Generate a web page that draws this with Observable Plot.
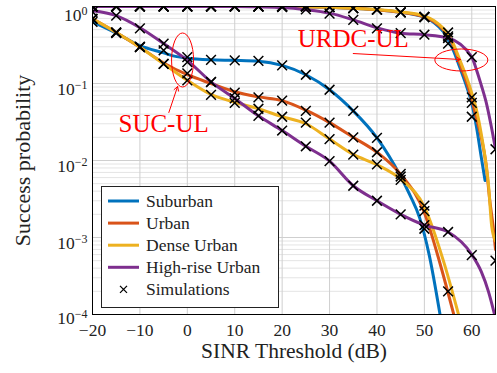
<!DOCTYPE html>
<html><head><meta charset="utf-8">
<script src="https://cdn.jsdelivr.net/npm/d3@7"></script>
<script src="https://cdn.jsdelivr.net/npm/@observablehq/plot@0.6"></script>
<style>body{margin:0;background:#fff} svg{display:block}</style>
</head><body><div id="chart"></div>
<script>
// ---- data ----
const seriesNames = ["Suburban", "Urban", "Dense Urban", "High-rise Urban"];
const seriesColors = ["#0072BD", "#D95319", "#EDB120", "#7E2F8E"];
const xTicks = [-20, -10, 0, 10, 20, 30, 40, 50, 60];
const yTicks = [1e-4, 1e-3, 1e-2, 1e-1, 1];

// SUC-UL analytical curves
const subSUCx = [-20,-15,-10,-5,-2.5,0,5,10,15,20,25,30,35,40,45,47,49,51,53.3];
const subSUCy = [0.63,0.45,0.31,0.25,0.225,0.213,0.203,0.2,0.195,0.172,0.13,0.083,0.044,0.0197,0.0062,0.0035,0.0018,0.0006,0.0001];
const urbSUCx = [-20,-15,-10,-5,0,5,10,15,20,25,30,35,40,45,50,53.3,56.2];
const urbSUCy = [0.69,0.46,0.296,0.185,0.13,0.1,0.078,0.067,0.06,0.045,0.031,0.020,0.0128,0.0066,0.0021,0.00046,0.0001];
const denSUCx = [-20,-15,-10,-5,0,5,10,15,20,25,30,35,40,45,50,54,57.2];
const denSUCy = [0.69,0.46,0.296,0.18,0.11,0.072,0.057,0.047,0.037,0.03,0.019,0.012,0.0088,0.0057,0.0025,0.0005,0.0001];
const hriSUCx = [-20,-15,-10,-5,0,5,10,15,20,25,30,35,40,45,50,55,60,62,63.5,64.8];
const hriSUCy = [0.88,0.76,0.53,0.33,0.2,0.105,0.064,0.038,0.0245,0.0153,0.0098,0.0047,0.003,0.002,0.00145,0.00118,0.0006,0.00036,0.0002,0.0001];

// URDC-UL analytical curves
const subURDCx = [-20,20,25,30,35,40,45,50,52,54,55,56,57.5,59,60,61,62,62.8];
const subURDCy = [1,1,0.995,0.98,0.95,0.91,0.84,0.72,0.62,0.47,0.37,0.28,0.16,0.088,0.055,0.027,0.011,0.0055];
const urbURDCx = [-20,20,25,30,35,40,45,50,52,54,55,56,57.5,59,60,61,62,63,63.8,64.5,65];
const urbURDCy = [1,1,0.995,0.98,0.95,0.91,0.84,0.73,0.64,0.5,0.41,0.32,0.18,0.1,0.062,0.035,0.02,0.009,0.003,0.0014,0.0007];
const denURDCx = [-20,20,25,30,35,40,45,50,52,54,55,56,57.5,59,60,61,62,63,63.5,64.2,65];
const denURDCy = [1,1,0.995,0.98,0.95,0.91,0.85,0.75,0.66,0.52,0.44,0.34,0.2,0.115,0.075,0.045,0.022,0.009,0.005,0.0014,0.0009];
const hriURDCx = [-20,10,15,20,25,30,35,40,45,50,55,60,61,62,63,64,65];
const hriURDCy = [1,1,0.99,0.97,0.91,0.82,0.67,0.53,0.45,0.43,0.39,0.22,0.15,0.095,0.058,0.03,0.014];

// Simulation points (every 5 dB)
const simX = [-20,-15,-10,-5,0,5,10,15,20,25,30,35,40,45,50,55,60,65];
const subSUCsim = [0.63,0.45,0.30,0.27,0.22,0.203,0.2,0.197,0.172,0.13,0.083,0.044,0.0197,0.0062,0.0013,null,null,null];
const urbSUCsim = [0.69,0.46,0.296,0.18,0.135,0.105,0.076,0.066,0.06,0.044,0.031,0.020,0.0128,0.0067,0.0022,0.0002,null,null];
const denSUCsim = [0.69,0.46,0.296,0.18,0.11,0.071,0.056,0.047,0.037,0.031,0.019,0.0119,0.0089,0.0056,0.0026,null,null,null];
const hriSUCsim = [0.85,0.76,0.52,0.33,0.19,0.104,0.064,0.038,0.0245,0.0153,0.0098,0.0047,0.003,0.002,0.00145,0.00118,0.00059,0.0005];
const subURDCsim = [1,1,1,1,1,1,1,1,1,1,0.98,0.95,0.91,0.84,0.73,0.33,0.037,null];
const urbURDCsim = [1,1,1,1,1,1,1,1,1,1,0.98,0.95,0.91,0.84,0.73,0.41,0.056,null];
const denURDCsim = [1,1,1,1,1,1,1,1,1,1,0.98,0.95,0.91,0.84,0.73,0.46,0.066,null];
const hriURDCsim = [1,1,1,1,1,1,1,1,0.98,0.92,0.81,0.67,0.52,0.45,0.43,0.39,0.22,0.014];

// Annotations (data coordinates)
const annoText = ["SUC-UL", "URDC-UL"];
const annoTextX = [-5, 35];
const annoTextY = [0.030, 0.38];
const arrowX1 = [-3.9, 35], arrowY1 = [0.042, 0.245];
const arrowX2 = [-2.05, 57.6], arrowY2 = [0.0914, 0.205];
const ellipseX = [-0.9, 57.9], ellipseY = [0.199, 0.199];

// ---- build tables ----
const curveDefs = [
  ["Suburban", subSUCx, subSUCy, subURDCx, subURDCy, subSUCsim, subURDCsim],
  ["Urban", urbSUCx, urbSUCy, urbURDCx, urbURDCy, urbSUCsim, urbURDCsim],
  ["Dense Urban", denSUCx, denSUCy, denURDCx, denURDCy, denSUCsim, denURDCsim],
  ["High-rise Urban", hriSUCx, hriSUCy, hriURDCx, hriURDCy, hriSUCsim, hriURDCsim]
];
const lineRows = [];
const simRows = [];
for (const [name, sx1, sy1, ux, uy, ss, us] of curveDefs) {
  sx1.forEach((x, i) => lineRows.push({series: name, key: name + "-SUC", x, y: sy1[i]}));
  ux.forEach((x, i) => lineRows.push({series: name, key: name + "-URDC", x, y: uy[i]}));
  simX.forEach((x, i) => {
    if (ss[i] != null) simRows.push({x, y: ss[i]});
    if (us[i] != null) simRows.push({x, y: us[i]});
  });
}
const yMinor = [];
for (let k = -4; k < 0; k++) for (let m = 2; m <= 9; m++) yMinor.push(m * Math.pow(10, k));

const annoRows = annoText.map((t, i) => ({t, x: annoTextX[i], y: annoTextY[i]}));
const arrowRows = arrowX1.map((x, i) => ({x1: x, y1: arrowY1[i], x2: arrowX2[i], y2: arrowY2[i]}));

const FONT = "'Liberation Serif', 'Times New Roman', serif";

const chart = Plot.plot({
  width: 497, height: 373,
  marginLeft: 92, marginRight: 2, marginTop: 6, marginBottom: 59,
  style: {fontFamily: FONT, fontSize: "17.5px", color: "#222", background: "white", overflow: "visible"},
  x: {domain: [-20, 65], ticks: xTicks, label: null, tickSize: 0, tickPadding: 9},
  y: {type: "log", domain: [1e-4, 1], ticks: yTicks, label: null, tickSize: 0, tickPadding: 5,
      tickFormat: d => "10|" + Math.round(Math.log10(d))},
  color: {domain: seriesNames, range: seriesColors},
  marks: [
    Plot.ruleY(yMinor, {stroke: "#e4e4e4", strokeWidth: 1}),
    Plot.ruleY(yTicks, {stroke: "#cfcfcf", strokeWidth: 1}),
    Plot.ruleX(xTicks, {stroke: "#cfcfcf", strokeWidth: 1}),
    Plot.line(lineRows, {x: "x", y: "y", z: "key", stroke: "series", strokeWidth: 3, curve: "monotone-x", clip: true}),
    Plot.dot(simRows, {x: "x", y: "y", symbol: "times", r: 4.5, stroke: "black", strokeWidth: 1.5, clip: true}),
    Plot.arrow(arrowRows, {x1: "x1", y1: "y1", x2: "x2", y2: "y2", stroke: "#ff0000", strokeWidth: 1, headLength: 7}),
    Plot.text(annoRows, {x: "x", y: "y", text: "t", fill: "#ff0000", fontSize: 25}),
    Plot.frame({stroke: "black", strokeWidth: 1}),
    Plot.text(["SINR Threshold (dB)"], {frameAnchor: "bottom", textAnchor: "middle", dy: 43, fontSize: 21.5, fill: "#222"}),
    Plot.text(["Success probability"], {frameAnchor: "left", textAnchor: "middle", dx: -70, rotate: -90, fontSize: 22, fill: "#222"})
  ]
});
document.getElementById("chart").appendChild(chart);

// ---- post-processing ----
const svg = d3.select(chart);
const sx = chart.scale("x"), sy = chart.scale("y");

// superscript exponents on y tick labels
const tickDy = {"0": "0.49em", "-4": "0.2em"};
svg.selectAll('[aria-label="y-axis tick label"] text').each(function() {
  const s = this.textContent;
  if (!s.includes("|")) return;
  const e = s.split("|")[1];
  const exp = e.replace("-", "\u2212");
  const t = d3.select(this);
  t.text(null).attr("dy", tickDy[e] || "0.33em");
  t.append("tspan").text("10");
  t.append("tspan").attr("dy", "-6px").attr("font-size", "12px").text(exp);
});

// red ellipses
const ell = svg.append("g").attr("fill", "none").attr("stroke", "#ff0000").attr("stroke-width", 1);
const ellR = [[11, 27], [26.5, 11]];
ellipseX.forEach((x, i) => {
  ell.append("ellipse").attr("cx", sx.apply(x)).attr("cy", sy.apply(ellipseY[i]))
    .attr("rx", ellR[i][0]).attr("ry", ellR[i][1]);
});

// legend
const lx = sx.apply(-20) + 9, ly = sy.apply(1e-2) + 26;
const lw = 177, lh = 121, rowH = 22.1;
const lg = svg.append("g").attr("font-family", FONT).attr("font-size", 17.5)
  .attr("fill", "#222").attr("text-anchor", "start");
lg.append("rect").attr("x", lx + 0.5).attr("y", ly + 0.5).attr("width", lw).attr("height", lh)
  .attr("fill", "white").attr("stroke", "#222").attr("stroke-width", 1);
const legendItems = seriesNames.map((n, i) => ({label: n, color: seriesColors[i]}));
legendItems.push({label: "Simulations", color: null});
legendItems.forEach((it, i) => {
  const cy = ly + 15 + i * rowH;
  if (it.color) {
    lg.append("line").attr("x1", lx + 7).attr("x2", lx + 38).attr("y1", cy).attr("y2", cy)
      .attr("stroke", it.color).attr("stroke-width", 3);
  } else {
    const c = lx + 22.5, s = 3.5;
    lg.append("path").attr("d", `M${c-s},${cy-s}L${c+s},${cy+s}M${c-s},${cy+s}L${c+s},${cy-s}`)
      .attr("stroke", "black").attr("stroke-width", 1.3);
  }
  lg.append("text").attr("x", lx + 45).attr("y", cy).attr("dy", "0.33em").attr("text-anchor", "start").text(it.label);
});
</script>
</body></html>
